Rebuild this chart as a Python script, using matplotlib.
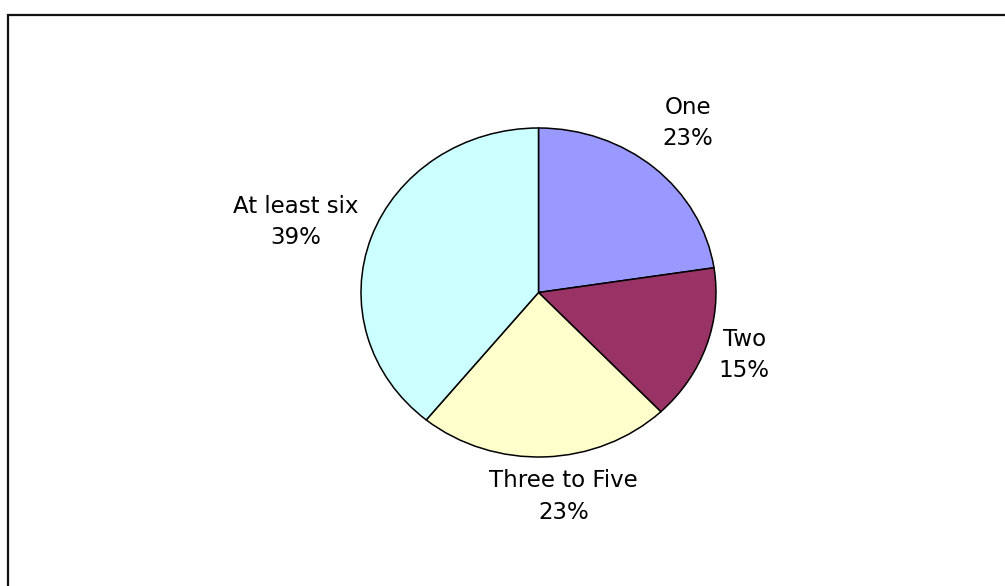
import matplotlib
matplotlib.use("Agg")
import matplotlib.pyplot as plt
from matplotlib.patches import Rectangle

# slice data (clockwise from 12 o'clock)
categories = ["One", "Two", "Three to Five", "At least six"]
shares = [22.6, 15.3, 23.0, 39.1]
colors = ["#9999FF", "#993366", "#FFFFCC", "#CCFFFF"]

# label centres in pie data units (radius = 1)
label_pos = [(0.84, 1.03), (1.16, -0.38), (0.14, -1.24), (-1.37, 0.43)]

W, H = 1005, 586
fig = plt.figure(figsize=(W / 100, H / 100), dpi=100)

# outer chart border (right and bottom run off the image)
fig.add_artist(Rectangle((8 / W, -0.1), 1.1, 1 - 15 / H + 0.1,
                         transform=fig.transFigure, fill=False,
                         ec="#111111", lw=1.6))

# pie is a bit wider than tall, so the axes is sized to the ellipse
cx, cy, rx, ry = 538.5, 292.5, 177.5, 164.5
ax = fig.add_axes([(cx - rx) / W, (H - cy - ry) / H, 2 * rx / W, 2 * ry / H])
ax.pie(shares, colors=colors, startangle=90, counterclock=False,
       wedgeprops=dict(edgecolor="black", linewidth=1.1))
ax.set_aspect("auto")
ax.set_xlim(-1, 1)
ax.set_ylim(-1, 1)
ax.axis("off")

total = sum(shares)
for name, val, (x, y) in zip(categories, shares, label_pos):
    ax.text(x, y, "%s\n%d%%" % (name, round(100 * val / total)),
            ha="center", va="center", fontsize=16.5, linespacing=1.45,
            clip_on=False)

fig.savefig("out.png", dpi=100)
